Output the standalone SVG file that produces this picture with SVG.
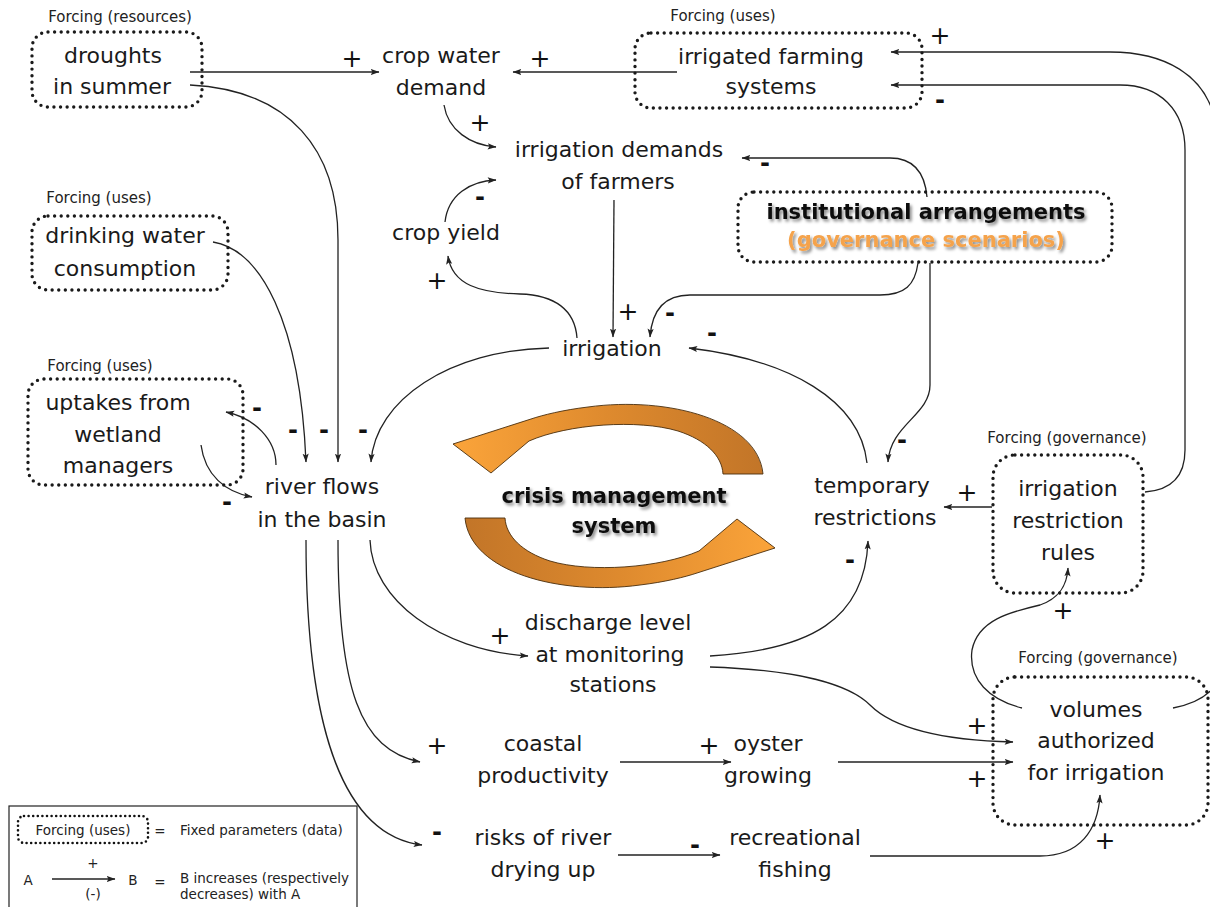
<svg xmlns="http://www.w3.org/2000/svg" width="1210" height="907" viewBox="0 0 1210 907">
<style>
.t{font-family:"DejaVu Sans","Liberation Sans",sans-serif;font-size:22px;fill:#1a1a1a;text-anchor:middle}
.lab{font-family:"DejaVu Sans","Liberation Sans",sans-serif;font-size:15px;fill:#222;text-anchor:middle}
.box{fill:none;stroke:#1a1a1a;stroke-width:3.4;stroke-linecap:round;stroke-dasharray:0 6.6}
.c{fill:none;stroke:#222;stroke-width:1.3}
.a{marker-end:url(#ah)}
.p{font-family:"DejaVu Sans","Liberation Sans",sans-serif;font-size:25px;fill:#111;text-anchor:middle;dominant-baseline:central}
.m{font-family:"DejaVu Sans","Liberation Sans",sans-serif;font-size:24px;font-weight:bold;fill:#111;text-anchor:middle;dominant-baseline:central}
.bold{font-family:"DejaVu Sans","Liberation Sans",sans-serif;font-weight:bold;font-size:21px;text-anchor:middle}
.lg{font-family:"DejaVu Sans","Liberation Sans",sans-serif;font-size:13.5px;fill:#222}
.arr{fill:url(#og);stroke:#4a2e0c;stroke-width:0.9;stroke-linejoin:round}
</style>
<defs>
<marker id="ah" viewBox="0 0 10 8" refX="9.5" refY="4" markerWidth="9" markerHeight="7" markerUnits="userSpaceOnUse" orient="auto">
<path d="M0,0.5 L10,4 L0,7.5 L2,4 z" fill="#222"/>
</marker>
<linearGradient id="og" gradientUnits="userSpaceOnUse" x1="465" y1="0" x2="775" y2="0">
<stop offset="0" stop-color="#C27528"/>
<stop offset="0.5" stop-color="#DE8A2E"/>
<stop offset="1" stop-color="#FBA43A"/>
</linearGradient>
<filter id="sh" x="-10%" y="-30%" width="120%" height="160%">
<feDropShadow dx="2" dy="2.5" stdDeviation="1.6" flood-color="#000" flood-opacity="0.45"/>
</filter>
</defs>
<rect width="1210" height="907" fill="#fff"/>

<g id="connectors">
<path class="c a" d="M190,72 L379,72"/>
<path class="c a" d="M677,72 L513,72"/>
<path class="c a" d="M444,105 C 448,130 470,145 496,147"/>
<path class="c a" d="M445,222 C 448,195 470,181 496,180"/>
<path class="c a" d="M927,197 C 925,175 915,158 890,158 L742,158"/>
<path class="c a" d="M614,200 L613,337"/>
<path class="c a" d="M918,263 C 915,285 905,295 880,295 L690,295 C 665,295 652,310 650,337"/>
<path class="c a" d="M930,263 L930,385 C 930,415 890,425 888,462"/>
<path class="c a" d="M577,338 C 575,310 555,295 520,294 C 480,293 452,285 448,256"/>
<path class="c a" d="M867,463 C 860,400 790,360 689,348"/>
<path class="c a" d="M549,348 C 450,350 375,400 371,462"/>
<path class="c a" d="M190,85 C 290,90 338,150 338,240 L338,462"/>
<path class="c a" d="M213,242 C 260,250 300,320 306,462"/>
<path class="c a" d="M276,465 C 276,440 255,418 226,412"/>
<path class="c a" d="M201,445 C 205,475 225,492 252,497"/>
<path class="c a" d="M992,507 L944,507"/>
<path class="c a" d="M710,656 C 810,650 865,620 868,541"/>
<path class="c a" d="M370,540 C 372,600 440,650 528,656"/>
<path class="c a" d="M710,667 C 800,670 850,685 870,705 C 890,725 930,740 1013,742"/>
<path class="c a" d="M338,540 C 338,690 360,750 420,762"/>
<path class="c a" d="M306,540 C 306,720 340,835 422,845"/>
<path class="c a" d="M620,762 L731,762"/>
<path class="c a" d="M838,762 L1013,762"/>
<path class="c a" d="M618,855 L720,855"/>
<path class="c a" d="M870,856 L1040,856 C 1080,856 1098,830 1100,795"/>
<path class="c a" d="M1022,708 C 990,700 968,680 972,650 C 978,620 1010,612 1040,605 C 1060,598 1067,585 1068,568"/>
<path class="c" d="M1173,708 C 1195,704 1208,695 1215,686"/>
<path class="c a" d="M1215,120 C 1205,75 1165,52 1110,52 L891,52"/>
<path class="c a" d="M1145,492 C 1172,490 1185,475 1185,450 L1185,150 C 1185,110 1160,85 1120,85 L891,85"/>
<text class="p" x="352" y="58">+</text>
<text class="p" x="540" y="58">+</text>
<text class="p" x="940" y="35">+</text>
<text class="m" x="940" y="100">-</text>
<text class="p" x="480" y="122">+</text>
<text class="m" x="765" y="163">-</text>
<text class="m" x="480" y="197">-</text>
<text class="p" x="437" y="280">+</text>
<text class="p" x="628" y="311">+</text>
<text class="m" x="670" y="313">-</text>
<text class="m" x="712" y="333">-</text>
<text class="m" x="257" y="408">-</text>
<text class="m" x="293" y="430">-</text>
<text class="m" x="324" y="430">-</text>
<text class="m" x="363" y="430">-</text>
<text class="m" x="227" y="502">-</text>
<text class="m" x="902" y="440">-</text>
<text class="p" x="967" y="492">+</text>
<text class="m" x="850" y="560">-</text>
<text class="p" x="500" y="635">+</text>
<text class="p" x="1063" y="610">+</text>
<text class="p" x="977" y="725">+</text>
<text class="p" x="977" y="778">+</text>
<text class="p" x="437" y="745">+</text>
<text class="m" x="437" y="832">-</text>
<text class="p" x="709" y="745">+</text>
<text class="m" x="695" y="845">-</text>
<text class="p" x="1105" y="840">+</text>
</g>

<g id="droughts">
<text class="lab" x="120" y="22">Forcing (resources)</text>
<rect class="box" x="32" y="32" width="170" height="75" rx="16"/>
<text class="t" x="113" y="63">droughts</text>
<text class="t" x="112" y="94">in summer</text>
</g>
<g id="crop-water-demand">
<text class="t" x="441" y="63">crop water</text>
<text class="t" x="441" y="95">demand</text>
</g>
<g id="irrigated-farming">
<text class="lab" x="723" y="21">Forcing (uses)</text>
<rect class="box" x="635" y="33" width="287" height="75" rx="16"/>
<text class="t" x="771" y="64">irrigated farming</text>
<text class="t" x="771" y="94">systems</text>
</g>
<g id="irrigation-demands">
<text class="t" x="619" y="157">irrigation demands</text>
<text class="t" x="618" y="189">of farmers</text>
</g>
<g id="crop-yield">
<text class="t" x="446" y="240">crop yield</text>
</g>
<g id="drinking-water">
<text class="lab" x="99" y="203">Forcing (uses)</text>
<rect class="box" x="32" y="216" width="196" height="74" rx="16"/>
<text class="t" x="125" y="243">drinking water</text>
<text class="t" x="125" y="276">consumption</text>
</g>
<g id="institutional">
<rect class="box" x="738" y="192" width="374" height="70" rx="16"/>
<text class="bold" x="926" y="219" fill="#111" filter="url(#sh)">institutional arrangements</text>
<text class="bold" x="926" y="247" fill="#F5A34C" filter="url(#sh)">(governance scenarios)</text>
</g>
<g id="irrigation">
<text class="t" x="612" y="356">irrigation</text>
</g>
<g id="uptakes">
<text class="lab" x="100" y="371">Forcing (uses)</text>
<rect class="box" x="28" y="379" width="215" height="106" rx="16"/>
<text class="t" x="118" y="410">uptakes from</text>
<text class="t" x="118" y="442">wetland</text>
<text class="t" x="118" y="473">managers</text>
</g>
<g id="river-flows">
<text class="t" x="322" y="494">river flows</text>
<text class="t" x="322" y="527">in the basin</text>
</g>
<g id="crisis-management">
<path class="arr" d="M465,518 C 470,572 560,596 640,585 C 665,582 685,577 697,573 L775,548 L737,519 L699,551 C 660,568 590,573 550,561 C 522,552 506,536 505,518 Z"/>
<path class="arr" transform="rotate(180 614 496)" d="M465,518 C 470,572 560,596 640,585 C 665,582 685,577 697,573 L775,548 L737,519 L699,551 C 660,568 590,573 550,561 C 522,552 506,536 505,518 Z"/>
<text class="bold" x="614" y="503" fill="#111" filter="url(#sh)">crisis management</text>
<text class="bold" x="614" y="533" fill="#111" filter="url(#sh)">system</text>
</g>
<g id="temporary-restrictions">
<text class="t" x="872" y="493">temporary</text>
<text class="t" x="875" y="525">restrictions</text>
</g>
<g id="restriction-rules">
<text class="lab" x="1067" y="443">Forcing (governance)</text>
<rect class="box" x="993" y="455" width="150" height="138" rx="22"/>
<text class="t" x="1068" y="496">irrigation</text>
<text class="t" x="1068" y="528">restriction</text>
<text class="t" x="1068" y="560">rules</text>
</g>
<g id="discharge">
<text class="t" x="608" y="630">discharge level</text>
<text class="t" x="610" y="662">at monitoring</text>
<text class="t" x="613" y="692">stations</text>
</g>
<g id="volumes">
<text class="lab" x="1098" y="663">Forcing (governance)</text>
<rect class="box" x="993" y="677" width="215" height="148" rx="22"/>
<text class="t" x="1096" y="717">volumes</text>
<text class="t" x="1096" y="748">authorized</text>
<text class="t" x="1096" y="780">for irrigation</text>
</g>
<g id="coastal">
<text class="t" x="543" y="751">coastal</text>
<text class="t" x="543" y="783">productivity</text>
</g>
<g id="oyster">
<text class="t" x="768" y="751">oyster</text>
<text class="t" x="768" y="783">growing</text>
</g>
<g id="risks">
<text class="t" x="543" y="845">risks of river</text>
<text class="t" x="543" y="877">drying up</text>
</g>
<g id="recreational">
<text class="t" x="795" y="845">recreational</text>
<text class="t" x="795" y="877">fishing</text>
</g>

<g id="legend">
<rect x="9" y="806" width="348" height="110" fill="#fff" stroke="#222" stroke-width="1.2"/>
<rect x="18" y="816" width="130" height="27" rx="6" fill="none" stroke="#111" stroke-width="2.6" stroke-linecap="round" stroke-dasharray="0 4.6"/>
<text class="lg" x="83" y="835" text-anchor="middle">Forcing (uses)</text>
<text class="lg" x="160" y="836" text-anchor="middle">=</text>
<text class="lg" x="180" y="835">Fixed parameters (data)</text>
<text class="lg" x="28" y="885" text-anchor="middle">A</text>
<path class="c a" d="M52,879 L115,879"/>
<text class="lg" x="93" y="868" text-anchor="middle">+</text>
<text class="lg" x="93" y="899" text-anchor="middle">(-)</text>
<text class="lg" x="133" y="885" text-anchor="middle">B</text>
<text class="lg" x="160" y="887" text-anchor="middle">=</text>
<text class="lg" x="180" y="883">B increases (respectively</text>
<text class="lg" x="180" y="899">decreases) with A</text>
</g>
</svg>
